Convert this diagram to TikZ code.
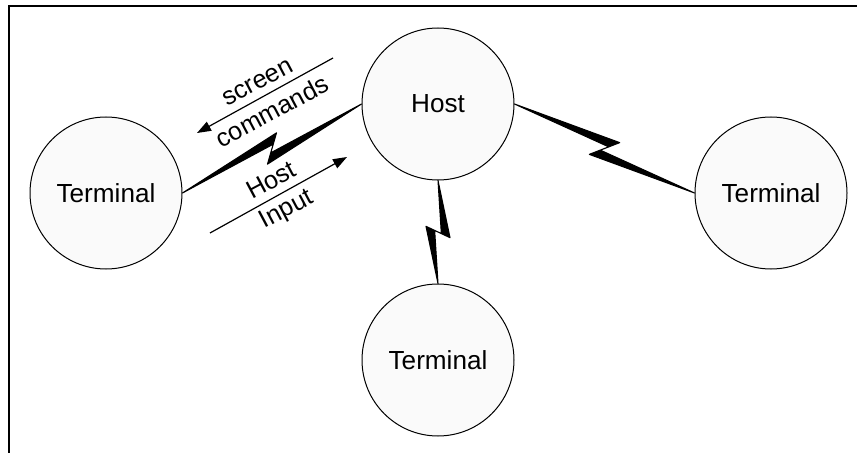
\documentclass[tikz,border=0pt]{standalone}
\usepackage{fontspec}
\setmainfont{Liberation Sans}
\usetikzlibrary{calc,arrows.meta}
\definecolor{circfill}{RGB}{250,250,250}
\newcommand\boltlink[2]{%
  \filldraw[bolt] (#1)
    -- ($(#1)!0.555!(#2)!9pt!90:(#2)$)
    -- ($(#1)!0.485!(#2)!2.5pt!-90:(#2)$)
    -- (#2)
    -- ($(#1)!0.445!(#2)!9pt!-90:(#2)$)
    -- ($(#1)!0.515!(#2)!2.5pt!90:(#2)$)
    -- cycle;}
\begin{document}
\begin{tikzpicture}[x=0.75pt,y=-0.75pt,
  term/.style={circle,draw=black,line width=0.75pt,fill=circfill,minimum size=114pt,inner sep=0pt,
    font=\fontsize{19.6}{23}\selectfont},
  lbl/.style={rotate=28,inner sep=0pt,font=\fontsize{19}{22}\selectfont},
  bolt/.style={fill=black,draw=black,line width=0.8pt,line join=round},
  arr/.style={line width=0.9pt,-{Triangle[length=10.5pt,width=7.5pt]}},
  frame/.style={line width=1.5pt}]
\useasboundingbox (0,0) rectangle (857,453);
\draw[frame] (857,6.5) -- (8.5,6.5) -- (8.5,453);
\node[term] (t1) at (106,193) {Terminal};
\node[term] (host) at (438,104) {Host};
\node[term] (t2) at (771,193) {Terminal};
\node[term] (t3) at (438,360) {Terminal};
\boltlink{t1.east}{host.west}
\boltlink{host.east}{t2.west}
\boltlink{host.south}{t3.north}
\coordinate (a1s) at (333,58);
\coordinate (a1e) at (197,133);
\coordinate (a2s) at (210,233);
\coordinate (a2e) at (347,157);
\draw[arr] (a1s) -- (a1e);
\draw[arr] (a2s) -- (a2e);
\node[lbl] (lscreen) at (258,83) {screen};
\node[lbl] (lcmd) at (272,111) {commands};
\node[lbl] (lhost) at (271,180) {Host};
\node[lbl] (linput) at (287,210) {Input};
\end{tikzpicture}
\end{document}
